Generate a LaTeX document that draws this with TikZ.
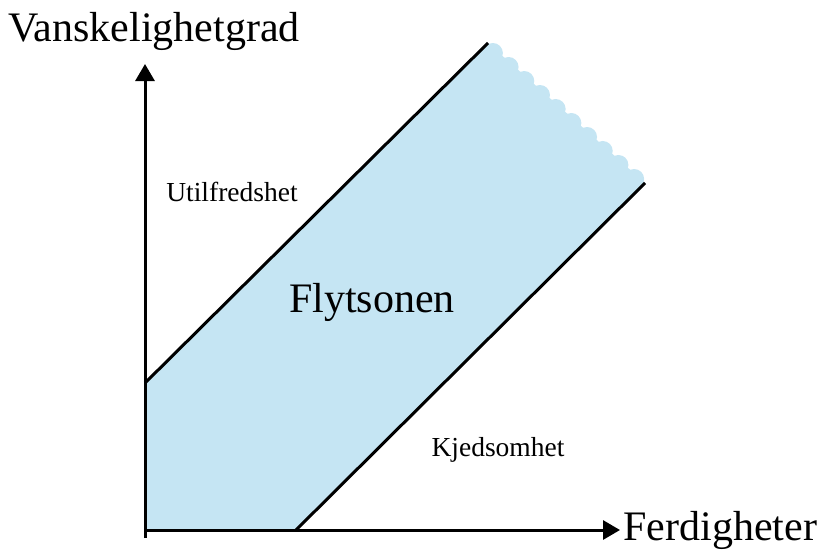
\documentclass[tikz,border=0pt]{standalone}
\usepackage{fontspec}
\setmainfont{Liberation Serif}
\usetikzlibrary{arrows.meta, positioning, calc}
\definecolor{flowblue}{RGB}{197,229,243}
\tikzset{
  axis/.style={line width=3pt, -{Triangle[length=17pt,width=19pt]}},
  bound/.style={line width=3pt},
  big/.style={font=\fontsize{42}{44}\selectfont},
  small/.style={font=\fontsize{27.5}{30}\selectfont}
}

\begin{document}
\begin{tikzpicture}[x=1pt, y=-1pt]
  \useasboundingbox (0,0) rectangle (821,552);
  % corners of the flow channel
  \coordinate (O) at (145,530);
  \coordinate (A) at (145,383);
  \coordinate (B) at (488,43);
  \coordinate (C) at (645,183);
  \coordinate (D) at (296,530);
  \coordinate (Ytop) at (145,64);
  \coordinate (Xend) at (620,530);
  % channel
  \fill[flowblue] (O) -- (A) -- (B) -- (C) -- (D) -- cycle;
  \foreach \t in {0.05,0.15,...,0.96}
    \fill[flowblue] ($(B)!\t!(C)+(-3,3)$) circle (10);
  \draw[bound] (A) -- (B);
  \draw[bound] (D) -- (C);
  % axes
  \draw[axis] (145,538) -- (Ytop);
  \draw[axis] (O) -- (Xend);
  % labels
  \node[big] (vansk) at (154,31) {Vanskelighetgrad};
  \node[big, right=0pt of Xend] (ferd) {Ferdigheter};
  \node[big] (flyt) at (372,302) {Flytsonen};
  \node[small] (util) at (232,192) {Utilfredshet};
  \node[small] (kjed) at (498,450) {Kjedsomhet};
\end{tikzpicture}
\end{document}
